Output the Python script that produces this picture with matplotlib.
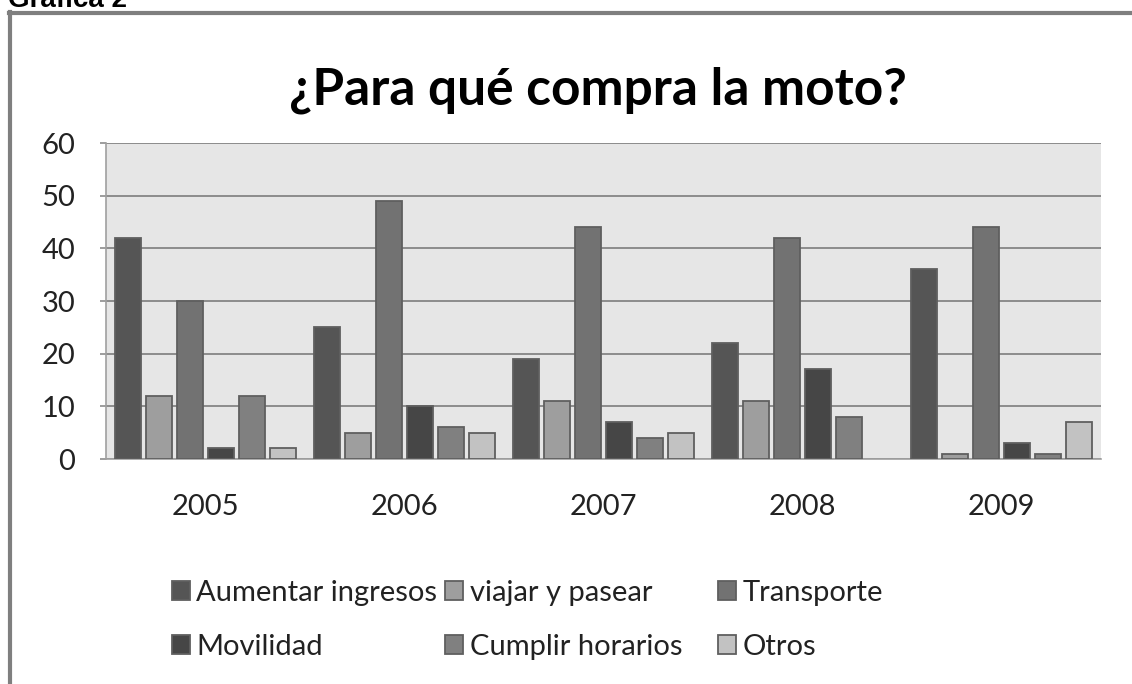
import matplotlib
matplotlib.use("Agg")
import matplotlib.pyplot as plt
import numpy as np
from matplotlib.lines import Line2D

years = ["2005", "2006", "2007", "2008", "2009"]
series = ["Aumentar ingresos", "viajar y pasear", "Transporte",
          "Movilidad", "Cumplir horarios", "Otros"]
aumentar = [42, 25, 19, 22, 36]
viajar = [12, 5, 11, 11, 1]
transporte = [30, 49, 44, 42, 44]
movilidad = [2, 10, 7, 17, 3]
cumplir = [12, 6, 4, 8, 1]
otros = [2, 5, 5, 0, 7]
values = [aumentar, viajar, transporte, movilidad, cumplir, otros]
colors = ["#555555", "#9e9e9e", "#727272", "#464646", "#808080", "#c2c2c2"]
yticks = [0, 10, 20, 30, 40, 50, 60]

W, H = 1132, 684
fig = plt.figure(figsize=(W / 100, H / 100), dpi=100)
fig.patch.set_facecolor("white")

def fx(px):
    return px / W

def fy(py):
    return 1 - py / H

FONT = "Lato"

# outer frame
fig.add_artist(Line2D([fx(10), fx(10)], [fy(12), fy(684)], color="#7f7f7f", lw=3.0))
fig.add_artist(Line2D([fx(9), fx(1132)], [fy(13), fy(13)], color="#7f7f7f", lw=3.0))
fig.text(fx(8), fy(7), "Gráfica 2", fontsize=20, fontweight="bold",
         family="Liberation Sans", ha="left", va="baseline", color="black")

ax = fig.add_axes([fx(106), fy(459), fx(1101) - fx(106), fy(143) - fy(459)])
ax.set_facecolor("#e6e6e6")

x = np.arange(len(years))
slot = 0.155
bw = 0.13
handles = []
for i, (vals, col) in enumerate(zip(values, colors)):
    off = (i - 2.5) * slot
    lws = [1.3 if v > 0 else 0 for v in vals]
    b = ax.bar(x + off, vals, width=bw, color=col, edgecolor="#5f5f5f",
               linewidth=lws, zorder=3, label=series[i])
    handles.append(b)

ax.set_xlim(-0.5, len(years) - 0.5)
ax.set_ylim(0, 60)
ax.set_yticks(yticks)
ax.set_yticklabels([str(v) for v in yticks], fontsize=21, family=FONT, color="#222222")
ax.set_xticks(x)
ax.set_xticklabels(years, fontsize=21, family=FONT, color="#222222")
ax.tick_params(axis="x", length=0, pad=25)
ax.tick_params(axis="y", length=4, width=1.2, color="#8c8c8c", pad=18)
ax.grid(axis="y", color="#8c8c8c", linewidth=1.4, zorder=1)
for side in ["left", "top", "right", "bottom"]:
    ax.spines[side].set_color("#a0a0a0")
    ax.spines[side].set_linewidth(1.2)
ax.spines["right"].set_visible(False)
ax.spines["top"].set_visible(False)

fig.text(fx(598), fy(90), "¿Para qué compra la moto?", fontsize=37,
         fontweight="bold", family=FONT, ha="center", va="center", color="black")

# legend entries positioned individually
pos = [(172, 593), (445, 593), (718, 593), (172, 647), (445, 647), (718, 647)]
for h, lab, (px, py) in zip(handles, series, pos):
    leg = fig.legend([h], [lab], loc="center left", bbox_to_anchor=(fx(px), fy(py)),
                     frameon=False, handlelength=0.62, handleheight=0.62,
                     handletextpad=0.22, borderpad=0, borderaxespad=0,
                     prop={"family": FONT, "size": 21})
    for t in leg.get_texts():
        t.set_color("#222222")

fig.savefig("out.png", dpi=100)
